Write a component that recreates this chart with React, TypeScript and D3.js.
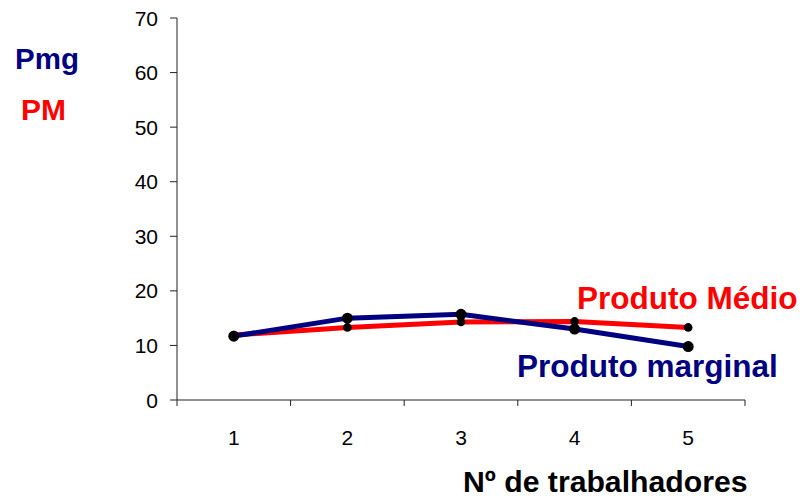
import * as d3 from "d3";

/* ---------- data ---------- */

const workers = ["1", "2", "3", "4", "5"];
// Produto Médio (PM)
const averageProduct = [11.9, 13.3, 14.3, 14.4, 13.3];
// Produto marginal (Pmg)
const marginalProduct = [11.7, 15.0, 15.7, 13.0, 9.8];
const yTicks = [0, 10, 20, 30, 40, 50, 60, 70];

const RED = "#ff0000";
const NAVY = "#000080";
const FONT = "'Liberation Sans', Arial, sans-serif";

/* ---------- layout ---------- */

const W = 803;
const H = 497;
const margin = { left: 177, right: 58, top: 18, bottom: 97 };

export default function App() {
  const x = d3
    .scaleBand<string>()
    .domain(workers)
    .range([margin.left, W - margin.right]);
  const y = d3
    .scaleLinear()
    .domain([0, 70])
    .range([H - margin.bottom, margin.top]);

  const cx = (i: number) => (x(workers[i]) ?? 0) + x.bandwidth() / 2;

  const line = d3
    .line<number>()
    .x((_, i) => cx(i))
    .y((d) => y(d));

  const x0 = margin.left;
  const y0 = y(0);
  const boundaries = [...workers.map((w) => x(w) ?? 0), W - margin.right];

  return (
    <svg
      width={W}
      height={H}
      style={{ position: "absolute", left: 0, top: 0, background: "#fff" }}
      fontFamily={FONT}
    >
      {/* y axis */}
      <line x1={x0} x2={x0} y1={y(70)} y2={y0} stroke="#222" strokeWidth={1} />
      {yTicks.map((t) => (
        <g key={t}>
          <line x1={x0 - 7} x2={x0} y1={y(t)} y2={y(t)} stroke="#222" />
          <text
            x={x0 - 19}
            y={y(t)}
            dy="0.36em"
            textAnchor="end"
            fontSize={21}
            fill="#000"
          >
            {t}
          </text>
        </g>
      ))}

      {/* x axis */}
      <line x1={x0} x2={W - margin.right} y1={y0} y2={y0} stroke="#222" />
      {boundaries.map((b, i) => (
        <line key={i} x1={b} x2={b} y1={y0} y2={y0 + 6} stroke="#222" />
      ))}
      {workers.map((w, i) => (
        <text
          key={w}
          x={cx(i)}
          y={445}
          textAnchor="middle"
          fontSize={21}
          fill="#000"
        >
          {w}
        </text>
      ))}

      {/* PM line */}
      <path d={line(averageProduct) ?? ""} fill="none" stroke={RED} strokeWidth={5} />
      {/* Pmg line */}
      <path d={line(marginalProduct) ?? ""} fill="none" stroke={NAVY} strokeWidth={5} />

      {averageProduct.map((v, i) => (
        <circle key={"pm" + i} cx={cx(i)} cy={y(v)} r={4.3} fill="#000" />
      ))}
      {marginalProduct.map((v, i) => (
        <circle key={"pmg" + i} cx={cx(i)} cy={y(v)} r={5.5} fill="#000" />
      ))}

      {/* labels */}
      <text x={15} y={69} fontSize={29.5} fontWeight="bold" fill={NAVY}>
        Pmg
      </text>
      <text x={21} y={120} fontSize={30} fontWeight="bold" fill={RED}>
        PM
      </text>
      <text x={577} y={309} fontSize={31.5} fontWeight="bold" fill={RED}>
        Produto Médio
      </text>
      <text x={517} y={377} fontSize={31.5} fontWeight="bold" fill={NAVY}>
        Produto marginal
      </text>
      <text x={463} y={492} fontSize={30.2} fontWeight="bold" fill="#000">
        Nº de trabalhadores
      </text>
    </svg>
  );
}
